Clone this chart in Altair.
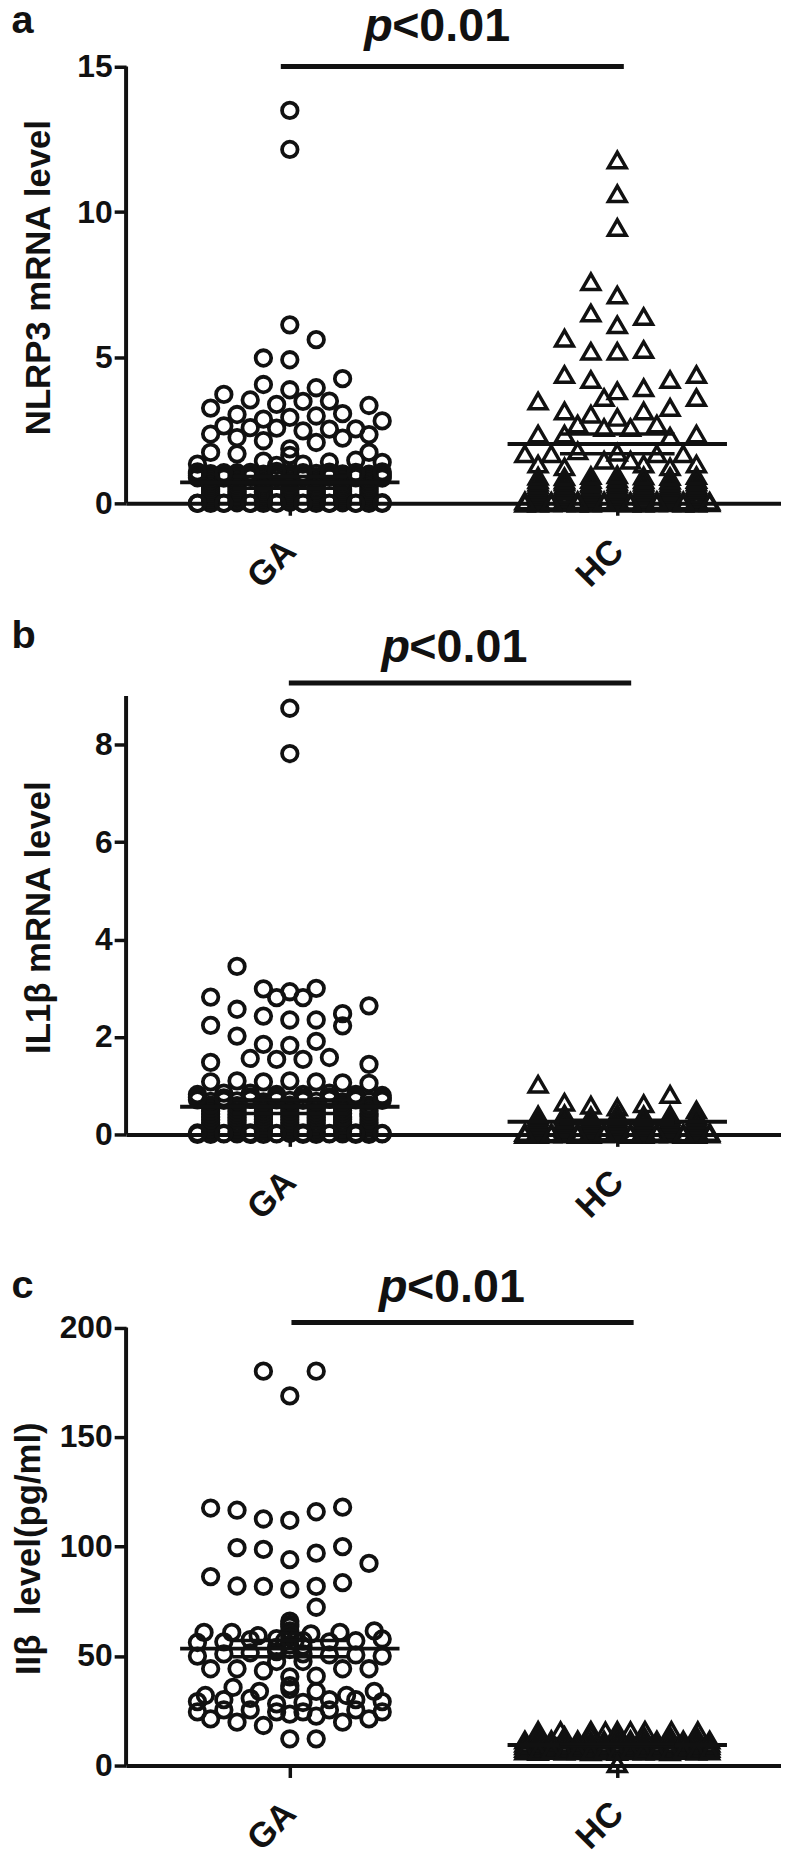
import altair as alt
import pandas as pd

FONT = "Liberation Sans"
INK = "#111111"

GROUP_CENTER = {"GA": 1.0, "HC": 3.0}
COL_STEP = 0.0806          # one beeswarm column in x units

EVEN = [-6, -4, -2, 0, 2, 4, 6]
ODD = [-7, -5, -3, -1, 1, 3, 5, 7]

# ---------------- panel a : NLRP3 mRNA ----------------
A_GA_COL = [0, 0, 0, 2, -2, 0, 4, -2, 2, 0, -5, -3, -1, 1, 3, -6, 6, -4, -2, 0, 2, 4, 7, -5, -3,
            -1, 1, 3, 5, -6, -4, -2, 2, 4, 6, 0, 0, -6, -4, 6, -7, 7, -2, -1, 1, 3, 5] \
    + EVEN * 15 + ODD * 6
A_GA_VAL = [13.49, 12.15, 6.13, 5.62, 4.99, 4.93, 4.28, 4.08, 3.97, 3.90, 3.74, 3.55, 3.40, 3.50, 3.51,
            3.27, 3.36, 3.05, 2.89, 2.95, 3.00, 3.08, 2.83, 2.66, 2.60, 2.58, 2.49, 2.55, 2.56, 2.38,
            2.26, 2.15, 2.09, 2.24, 2.36, 1.87, 1.65, 1.75, 1.70, 1.75, 1.35, 1.41, 1.45, 1.30, 1.35,
            1.42, 1.48,
            # dense even columns
            0.00, 0.02, 0.00, 0.03, 0.00, 0.02, 0.00,
            0.07, 0.06, 0.08, 0.07, 0.06, 0.08, 0.07,
            0.14, 0.12, 0.15, 0.13, 0.12, 0.14, 0.13,
            0.21, 0.20, 0.22, 0.21, 0.19, 0.21, 0.20,
            0.28, 0.26, 0.27, 0.29, 0.26, 0.28, 0.27,
            0.35, 0.34, 0.36, 0.35, 0.33, 0.35, 0.34,
            0.42, 0.40, 0.41, 0.43, 0.40, 0.42, 0.41,
            0.49, 0.48, 0.50, 0.49, 0.47, 0.49, 0.48,
            0.56, 0.55, 0.57, 0.56, 0.55, 0.57, 0.56,
            0.63, 0.62, 0.64, 0.63, 0.61, 0.63, 0.62,
            0.70, 0.71, 0.69, 0.72, 0.70, 0.69, 0.71,
            0.78, 0.77, 0.79, 0.78, 0.76, 0.78, 0.77,
            0.86, 0.84, 0.85, 0.88, 0.85, 0.84, 0.86,
            0.94, 0.93, 0.95, 0.94, 0.92, 0.94, 0.93,
            1.02, 1.05, 1.00, 1.04, 1.03, 1.01, 1.00,
            # dense odd columns
            0.00, 0.01, 0.00, 0.02, 0.00, 0.01, 0.00, 0.02,
            0.01, 0.00, 0.01, 0.00, 0.01, 0.00, 0.01, 0.00,
            0.88, 0.87, 0.89, 0.88, 0.87, 0.89, 0.88, 0.87,
            0.95, 0.94, 0.96, 0.95, 0.94, 0.96, 0.95, 0.94,
            1.02, 1.01, 1.03, 1.02, 1.01, 1.03, 1.02, 1.01,
            1.08, 1.05, 1.06, 1.10, 1.05, 1.07, 1.06, 1.08]
A_HC_COL = [0, 0, 0, -2, 0, -2, 2, 0, -4, -2, 0, 2, -4, -2, 4, 6, 0, 2, -1, -6, 6, 4, -4, -2, 2,
            0, -3, -1, 1, 3, -6, -4, 4, 6, -7, -5, -3, -1, 1, 3, 5, -6, -4, 0, 2, 4, 6] \
    + EVEN * 12 + ODD * 2
A_HC_VAL = [11.79, 10.63, 9.47, 7.61, 7.15, 6.53, 6.41, 6.13, 5.67, 5.22, 5.22, 5.28, 4.42, 4.25, 4.25,
            4.42, 3.86, 3.97, 3.63, 3.51, 3.63, 3.29, 3.17, 3.06, 3.17, 2.95, 2.72, 2.60, 2.60, 2.72,
            2.38, 2.38, 2.30, 2.38, 1.70, 1.70, 1.80, 1.48, 1.48, 1.70, 1.70, 1.35, 1.25, 1.75, 1.35,
            1.25, 1.35,
            0.00, 0.02, 0.00, 0.03, 0.00, 0.02, 0.00,
            0.08, 0.07, 0.09, 0.08, 0.07, 0.08, 0.09,
            0.16, 0.15, 0.17, 0.16, 0.14, 0.16, 0.15,
            0.24, 0.25, 0.23, 0.26, 0.24, 0.23, 0.25,
            0.32, 0.31, 0.33, 0.32, 0.30, 0.32, 0.31,
            0.40, 0.41, 0.39, 0.42, 0.40, 0.39, 0.41,
            0.48, 0.47, 0.49, 0.50, 0.48, 0.47, 0.49,
            0.56, 0.57, 0.55, 0.58, 0.56, 0.55, 0.57,
            0.64, 0.63, 0.65, 0.66, 0.64, 0.62, 0.64,
            0.72, 0.73, 0.71, 0.74, 0.72, 0.70, 0.73,
            0.81, 0.80, 0.82, 0.84, 0.81, 0.79, 0.82,
            0.93, 0.91, 0.95, 0.98, 0.94, 0.92, 0.95,
            0.00, 0.01, 0.00, 0.02, 0.00, 0.01, 0.00, 0.02,
            0.08, 0.07, 0.09, 0.08, 0.07, 0.09, 0.08, 0.07]

# ---------------- panel b : IL1β mRNA ----------------
B_GA_COL = [0, 0, -4, -6, -2, -1, 0, 1, 2, 6, -4, -2, 0, 2, 4, 4, -6, -4, -2, 0, 2, -3, -1, 1, 3,
            -6, 6, -6, -4, -2, 0, 2, 4, 6, -7, -5, -3, -1, 1, 3, 5, 7] \
    + EVEN * 12 + ODD * 4
B_GA_VAL = [8.75, 7.82, 3.45, 2.82, 2.99, 2.81, 2.93, 2.81, 3.00, 2.64, 2.57, 2.43, 2.35, 2.35, 2.48,
            2.23, 2.24, 2.02, 1.85, 1.83, 1.91, 1.56, 1.54, 1.54, 1.58, 1.48, 1.44, 1.08, 1.10, 1.08,
            1.10, 1.08, 1.06, 1.05, 0.82, 0.85, 0.85, 0.82, 0.82, 0.85, 0.82, 0.80,
            0.00, 0.01, 0.00, 0.02, 0.00, 0.01, 0.00,
            0.06, 0.05, 0.07, 0.06, 0.05, 0.07, 0.06,
            0.12, 0.11, 0.13, 0.12, 0.12, 0.11, 0.13,
            0.18, 0.17, 0.19, 0.18, 0.17, 0.19, 0.18,
            0.24, 0.23, 0.25, 0.24, 0.23, 0.25, 0.24,
            0.30, 0.29, 0.31, 0.30, 0.29, 0.31, 0.30,
            0.36, 0.35, 0.37, 0.36, 0.35, 0.36, 0.37,
            0.42, 0.41, 0.43, 0.42, 0.41, 0.43, 0.42,
            0.48, 0.47, 0.49, 0.48, 0.47, 0.49, 0.48,
            0.54, 0.53, 0.55, 0.54, 0.53, 0.55, 0.54,
            0.60, 0.59, 0.61, 0.60, 0.58, 0.61, 0.60,
            0.68, 0.69, 0.67, 0.70, 0.68, 0.67, 0.69,
            0.00, 0.01, 0.00, 0.01, 0.00, 0.01, 0.00, 0.01,
            0.03, 0.02, 0.03, 0.02, 0.03, 0.02, 0.03, 0.02,
            0.71, 0.70, 0.72, 0.71, 0.70, 0.72, 0.71, 0.70,
            0.76, 0.75, 0.77, 0.76, 0.75, 0.77, 0.76, 0.75]
B_HC_COL = [-6, 4, -4, -2, 0, 2, 6] + EVEN * 9 + ODD * 2
B_HC_VAL = [1.03, 0.82, 0.66, 0.60, 0.56, 0.63, 0.50,
            0.00, 0.01, 0.00, 0.02, 0.00, 0.01, 0.00,
            0.05, 0.06, 0.05, 0.06, 0.05, 0.06, 0.05,
            0.10, 0.11, 0.09, 0.12, 0.10, 0.11, 0.10,
            0.15, 0.16, 0.14, 0.17, 0.15, 0.16, 0.15,
            0.20, 0.21, 0.19, 0.22, 0.20, 0.21, 0.20,
            0.25, 0.26, 0.24, 0.27, 0.25, 0.26, 0.25,
            0.31, 0.30, 0.29, 0.33, 0.30, 0.31, 0.30,
            0.36, 0.37, 0.34, 0.38, 0.35, 0.36, 0.35,
            0.40, 0.42, 0.38, 0.43, 0.40, 0.41, 0.39,
            0.00, 0.01, 0.00, 0.01, 0.00, 0.01, 0.00, 0.01,
            0.04, 0.03, 0.04, 0.05, 0.03, 0.04, 0.03, 0.04]

# ---------------- panel c : IIβ protein ----------------
C_GA_COL = [-2, 2, 0, -6, -4, -2, 0, 2, 4, -4, -2, 0, 2, 4, 6, -6, -4, -2, 0, 2, 4, 2,
            0, 0, 0, -6.5, -4.4, -2.4, 1.6, 3.8, 6.4, 7, -7, -5, -3, -1, 1, 3, 5,
            -7, -5, -3, -1, 1, 3, 5, 7, 0, 0,
            -6, -4, -2, 0, 2, 4, 6, -1, 1,
            -4.3, 0, 2, 6.4, -6.4, -2.3, 4.3, 0,
            -7, 7, -5, -3, -1, 1, 3, 5,
            -7, -5, -3, -1, 1, 3, 5, 7,
            -6, -4, -2, 2, 4, 6, 0,
            0, 2,
            0, 0, 0, -0.4, 0.4, -1, 1]
C_GA_VAL = [180.1, 180.1, 168.8, 117.6, 116.6, 112.6, 112.0, 115.9, 118.0, 99.5, 98.7, 94.0, 97.0,
            100.0, 92.3, 86.3, 82.0, 81.8, 80.6, 81.8, 83.5, 72.3,
            66.0, 63.5, 61.5, 60.8, 60.8, 59.3, 60.1, 60.8, 61.5, 57.8, 56.2, 56.5, 57.5, 58.0, 57.0,
            56.5, 57.0,
            50.0, 51.0, 51.5, 52.0, 51.0, 50.5, 50.5, 50.0, 55.0, 53.0,
            44.2, 44.2, 43.3, 40.5, 40.8, 44.2, 44.2, 47.5, 47.5,
            35.7, 34.8, 33.9, 33.9, 32.0, 33.9, 32.0, 36.5,
            29.2, 29.2, 30.1, 30.7, 28.2, 28.8, 30.1, 30.1,
            24.5, 25.4, 25.4, 24.5, 24.5, 25.4, 25.4, 24.5,
            21.3, 19.8, 18.3, 22.6, 19.8, 21.3, 23.5,
            12.2, 12.2,
            64.5, 60.0, 58.5, 57.0, 57.0, 54.0, 54.5]
C_HC_COL = [-6, -4.3, -2, -0.9, 0, 1, 2.1, 4.1, 6.1] + EVEN \
    + [-7, -6, -5, -4, -3, -2, -1, 0, 1, 2, 3, 4, 5, 6, 7] * 5 + [0]
C_HC_VAL = [16.0, 15.9, 16.1, 15.8, 16.0, 15.9, 16.1, 16.0, 15.9,
            13.8, 13.6, 14.0, 13.7, 13.9, 13.6, 13.8,
            11.6, 11.4, 11.8, 11.5, 11.7, 11.3, 11.6, 11.5, 11.8, 11.4, 11.6, 11.5, 11.7, 11.4, 11.6,
            10.2, 10.0, 10.4, 10.1, 10.3, 9.9, 10.2, 10.0, 10.3, 10.1, 10.2, 9.9, 10.3, 10.0, 10.2,
            9.0, 8.8, 9.2, 8.9, 9.1, 8.7, 9.0, 8.8, 9.1, 8.9, 9.0, 8.7, 9.2, 8.9, 9.0,
            7.8, 7.6, 8.0, 7.7, 7.9, 7.5, 7.8, 7.6, 7.9, 7.7, 7.8, 7.5, 8.0, 7.7, 7.8,
            6.6, 6.4, 6.8, 6.5, 6.7, 6.3, 6.6, 6.4, 6.7, 6.5, 6.6, 6.3, 6.8, 6.5, 6.6,
            0.8]

# ---------------- summary lines and annotations (per panel a, b, c) ----------------
MEAN_GA = [0.72, 0.57, 53.4]
MEAN_HC = [2.04, 0.26, 9.4]
SEM_GA = [0.20, 0.14, 3.7]
SEM_HC = [0.34, 0.03, 0.4]
Y_TITLES = ["NLRP3 mRNA level", "IL1β mRNA level", "IIβ\u00a0 level(pg/ml)"]
Y_TICKS = [[0, 5, 10, 15], [0, 2, 4, 6, 8], [0, 50, 100, 150, 200]]
Y_AXIS_TOP = [15, 9, 200]
Y_DOMAIN_MAX = [17, 10.43, 232]
SIG_X1 = [0.945, 0.994, 1.01]
SIG_X2 = [3.04, 3.085, 3.10]
SIG_Y = [15.0, 9.27, 202.3]
P_X = [1.455, 1.56, 1.545]
REST_X = [1.625, 1.73, 1.715]
P_Y = [15.87, 9.70, 211.6]
LETTERS = ["a", "b", "c"]
LETTER_X = [-0.70, -0.70, -0.70]
LETTER_Y = [16.14, 9.99, 213.4]

PANEL_HEIGHT = [499, 512, 512]
TITLE_X = [-88, -88, -98]
TITLE_Y = [271, 293, 293]
MEAN_HALF = 0.67
SEM_HALF = 0.35


def points_frame(cols, vals, group):
    return pd.DataFrame({"x": [GROUP_CENTER[group] + c * COL_STEP for c in cols],
                         "y": vals, "group": group})


def panel(i, ga_col, ga_val, hc_col, hc_val):
    xs = alt.Scale(domain=[0, 4], nice=False, zero=False)
    ys = alt.Scale(domain=[0, Y_DOMAIN_MAX[i]], nice=False, zero=True)
    x_axis = alt.Axis(values=[1, 3], labelExpr="datum.value == 1 ? 'GA' : 'HC'",
                      grid=False, domainWidth=4, tickSize=12, tickWidth=3.5,
                      labelAngle=-45, labelAlign="right", labelBaseline="middle",
                      labelPadding=30, labelFontSize=35, labelOverlap=False)
    y_axis = alt.Axis(values=Y_TICKS[i], domain=False, grid=False,
                      tickSize=12, tickWidth=3.5, labelFontSize=32, labelPadding=2,
                      titleFontSize=35, titleX=TITLE_X[i], titleY=TITLE_Y[i],
                      titleBaseline="middle", titleAngle=-90)
    xn = alt.X("x:Q", scale=xs, axis=x_axis, title=None)
    yn = alt.Y("y:Q", scale=ys, axis=y_axis, title=Y_TITLES[i])

    ga = points_frame(ga_col, ga_val, "GA")
    hc = points_frame(hc_col, hc_val, "HC")

    circles = alt.Chart(ga).mark_point(shape="circle", filled=False, size=245, strokeWidth=3.8,
                                       color=INK, opacity=1).encode(x=xn, y=yn)
    tris = alt.Chart(hc).mark_point(shape="triangle-up", filled=False, size=320, strokeWidth=3.5,
                                    color=INK, opacity=1).encode(x=xn, y=yn)

    yline = alt.Chart(pd.DataFrame({"x": [0], "y": [0], "y2": [Y_AXIS_TOP[i]]})).mark_rule(
        color=INK, strokeWidth=4).encode(x=xn, y=yn, y2="y2:Q")

    means = pd.DataFrame({
        "x": [GROUP_CENTER["GA"] - MEAN_HALF, GROUP_CENTER["HC"] - MEAN_HALF],
        "x2": [GROUP_CENTER["GA"] + MEAN_HALF, GROUP_CENTER["HC"] + MEAN_HALF],
        "y": [MEAN_GA[i], MEAN_HC[i]]})
    sems = pd.DataFrame({
        "x": [GROUP_CENTER["GA"] - SEM_HALF] * 2 + [GROUP_CENTER["HC"] - SEM_HALF] * 2,
        "x2": [GROUP_CENTER["GA"] + SEM_HALF] * 2 + [GROUP_CENTER["HC"] + SEM_HALF] * 2,
        "y": [MEAN_GA[i] - SEM_GA[i], MEAN_GA[i] + SEM_GA[i],
              MEAN_HC[i] - SEM_HC[i], MEAN_HC[i] + SEM_HC[i]]})
    mean_rules = alt.Chart(means).mark_rule(color=INK, strokeWidth=4).encode(x=xn, x2="x2:Q", y=yn)
    sem_rules = alt.Chart(sems).mark_rule(color=INK, strokeWidth=3.5).encode(x=xn, x2="x2:Q", y=yn)

    sig = alt.Chart(pd.DataFrame({"x": [SIG_X1[i]], "x2": [SIG_X2[i]], "y": [SIG_Y[i]]})).mark_rule(
        color=INK, strokeWidth=5).encode(x=xn, x2="x2:Q", y=yn)

    p_txt = alt.Chart(pd.DataFrame({"x": [P_X[i]], "y": [P_Y[i]], "t": ["p"]})).mark_text(
        align="left", baseline="alphabetic", font=FONT, fontSize=47, fontWeight="bold",
        fontStyle="italic", color=INK).encode(x=xn, y=yn, text="t:N")
    rest_txt = alt.Chart(pd.DataFrame({"x": [REST_X[i]], "y": [P_Y[i]], "t": ["<0.01"]})).mark_text(
        align="left", baseline="alphabetic", font=FONT, fontSize=47, fontWeight="bold",
        color=INK).encode(x=xn, y=yn, text="t:N")
    letter = alt.Chart(pd.DataFrame({"x": [LETTER_X[i]], "y": [LETTER_Y[i]], "t": [LETTERS[i]]})).mark_text(
        align="left", baseline="alphabetic", font=FONT, fontSize=40, fontWeight="bold",
        color=INK).encode(x=xn, y=yn, text="t:N")

    return alt.layer(circles, tris, yline, mean_rules, sem_rules, sig, p_txt, rest_txt, letter).properties(
        width=660, height=PANEL_HEIGHT[i])


chart = alt.vconcat(
    panel(0, A_GA_COL, A_GA_VAL, A_HC_COL, A_HC_VAL),
    panel(1, B_GA_COL, B_GA_VAL, B_HC_COL, B_HC_VAL),
    panel(2, C_GA_COL, C_GA_VAL, C_HC_COL, C_HC_VAL),
    spacing=124, bounds="flush", padding={"left": 3, "top": -14, "right": 0, "bottom": 0},
).configure_view(stroke=None).configure_axis(
    domainColor=INK, tickColor=INK, labelColor=INK, titleColor=INK,
    labelFont=FONT, titleFont=FONT, labelFontWeight="bold", titleFontWeight="bold")

chart.save("out.html", embed_options={"renderer": "svg", "actions": False})
